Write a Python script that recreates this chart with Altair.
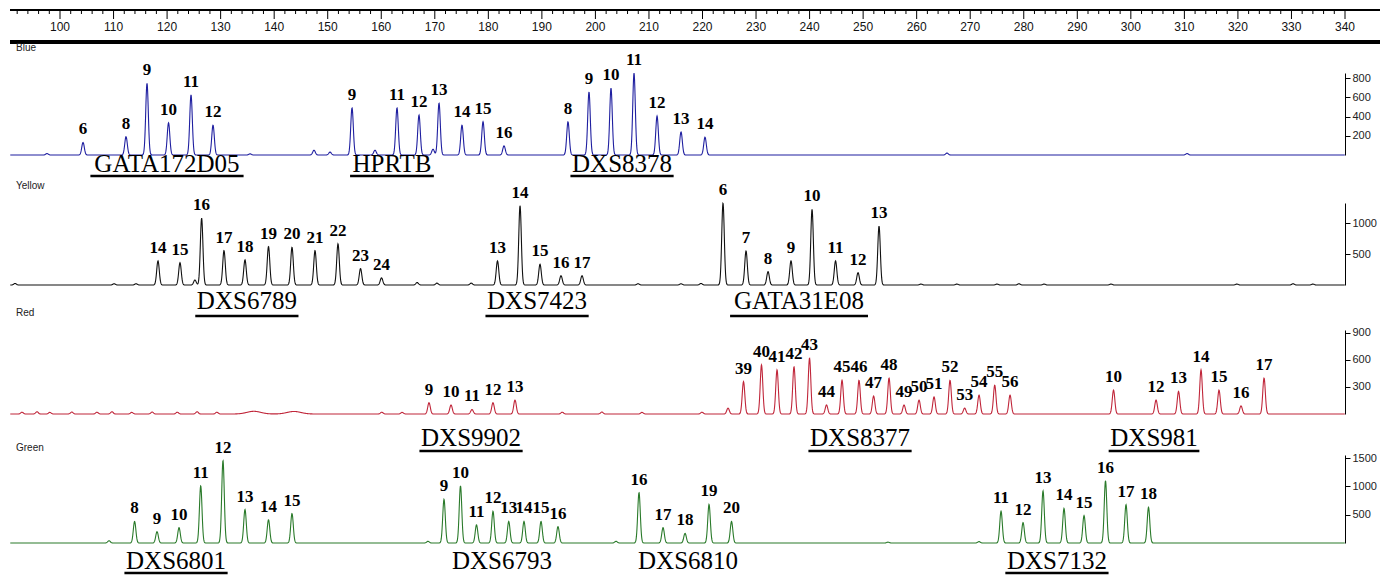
import altair as alt
import numpy as np
import pandas as pd

# ---------------- data ----------------
X_MIN, X_MAX = 90.66, 340.0
PX_PER_BP = 5.354

ruler_major = list(range(100, 341, 10))
ruler_minor = [v for v in range(92, 341, 2) if v % 10 != 0]

# Blue channel
blue_pos = [104.30, 112.33, 116.25, 120.27, 124.47, 128.58,
            154.54, 162.94, 167.05, 170.79, 175.08, 179.01, 182.93,
            194.88, 198.80, 202.91, 207.21, 211.51, 215.99, 220.47]
blue_h = [130, 190, 745, 335, 625, 310,
          490, 490, 415, 540, 310, 345, 95,
          345, 655, 695, 850, 405, 240, 185]
blue_lab = ['6', '8', '9', '10', '11', '12',
            '9', '11', '12', '13', '14', '15', '16',
            '8', '9', '10', '11', '12', '13', '14']
blue_minor_pos = [97.57, 135.49, 147.44, 150.43, 158.83, 169.67, 265.67, 310.50]
blue_minor_h = [15, 12, 50, 30, 50, 60, 20, 15]
blue_loci = ['GATA172D05', 'HPRTB', 'DXS8378']
blue_loci_x = [119.98, 162.0, 204.97]
blue_loci_ul = [1, 1, 1]

# Yellow channel
yellow_pos = [118.30, 122.41, 126.45, 130.63, 134.55, 138.94, 143.33, 147.63, 151.92, 156.13, 160.05,
              181.71, 185.92, 189.65, 193.57, 197.50,
              223.83, 228.13, 232.24, 236.53, 240.46, 244.85, 249.05, 252.97]
yellow_h = [390, 360, 1080, 555, 405, 620, 610, 555, 665, 265, 115,
            390, 1280, 335, 150, 150,
            1320, 550, 215, 390, 1220, 390, 200, 950]
yellow_lab = ['14', '15', '16', '17', '18', '19', '20', '21', '22', '23', '24',
              '13', '14', '15', '16', '17',
              '6', '7', '8', '9', '10', '11', '12', '13']
yellow_minor_pos = [91.6, 110.1, 114.2, 125.2, 166.7, 170.4, 176.8, 207.96, 215.99, 219.72,
                    260.8, 267.5, 275.0, 279.1, 283.8, 296.3, 319.8, 330.3, 334.0]
yellow_minor_h = [25, 20, 20, 80, 40, 30, 30, 20, 20, 25, 15, 15, 15, 20, 15, 15, 15, 20, 15]
yellow_loci = ['DXS6789', 'DXS7423', 'GATA31E08']
yellow_loci_x = [134.9, 189.1, 238.03]
yellow_loci_ul = [1, 1, 1]

# Red channel
red_pos = [168.92, 173.03, 176.95, 180.87, 184.98,
           227.66, 231.02, 233.92, 237.09, 239.99, 243.16, 246.06, 249.23, 251.96,
           254.84, 257.64, 260.44, 263.24, 266.23, 268.96, 271.65, 274.58, 277.44,
           296.77, 304.71, 308.91, 313.11, 316.47, 320.58, 324.88]
red_h = [125, 100, 50, 125, 155,
         360, 545, 490, 525, 620, 100, 375, 375, 200,
         400, 100, 155, 190, 375, 65, 210, 320, 210,
         265, 155, 250, 490, 265, 90, 400]
red_lab = ['9', '10', '11', '12', '13',
           '39', '40', '41', '42', '43', '44', '45', '46', '47',
           '48', '49', '50', '51', '52', '53', '54', '55', '56',
           '10', '12', '13', '14', '15', '16', '17']
red_minor_pos = [92.9, 95.7, 98.1, 102.2, 106.9, 109.7, 113.4, 117.2, 121.9, 125.6, 129.3,
                 160.1, 163.9, 193.8, 201.2, 208.7, 219.9, 224.77]
red_minor_h = [20, 25, 18, 22, 20, 25, 18, 22, 20, 25, 20, 20, 18, 20, 22, 18, 20, 65]
red_hump_pos = [136.2, 143.7]
red_hump_h = [30, 28]
red_loci = ['DXS9902', 'DXS8377', 'DXS981']
red_loci_x = [176.77, 249.42, 304.33]
red_loci_ul = [1, 1, 1]

# Green channel
green_pos = [113.93, 118.12, 122.23, 126.28, 130.44, 134.55, 138.94, 143.33,
             171.72, 174.80, 177.79, 180.87, 183.81, 186.66, 189.84, 193.01,
             208.14, 212.63, 216.74, 221.22, 225.42,
             275.76, 279.87, 283.60, 287.52, 291.26, 295.27, 299.10, 303.30]
green_h = [380, 200, 270, 1010, 1455, 590, 410, 520,
           770, 1010, 320, 560, 380, 380, 380, 290,
           890, 270, 170, 680, 380,
           560, 360, 920, 610, 485, 1100, 675, 630]
green_lab = ['8', '9', '10', '11', '12', '13', '14', '15',
             '9', '10', '11', '12', '13', '14', '15', '16',
             '16', '17', '18', '19', '20',
             '11', '12', '13', '14', '15', '16', '17', '18']
green_minor_pos = [109.15, 168.73, 203.85, 254.65, 271.64]
green_minor_h = [40, 30, 30, 15, 25]
green_loci = ['DXS6801', 'DXS6793', 'DXS6810', 'DXS7132']
green_loci_x = [121.67, 182.55, 217.3, 286.2]
green_loci_ul = [1, 0, 0, 1]

# ---------------- build tables ----------------
GRID = np.arange(X_MIN + 0.05, X_MAX + 0.0001, 0.05)
SIGMA = 0.24


def trace(pos, h, mpos, mh, hpos=(), hh=()):
    s = np.zeros_like(GRID)
    for p, v in zip(list(pos) + list(mpos), list(h) + list(mh)):
        s += v * np.exp(-0.5 * ((GRID - p) / SIGMA) ** 2)
    for p, v in zip(hpos, hh):
        s += v * np.exp(-0.5 * ((GRID - p) / 1.3) ** 2)
    return pd.DataFrame({'bp': GRID, 's': s})


EM = {'A': .722, 'B': .667, 'D': .722, 'E': .611, 'G': .722, 'H': .722,
      'P': .556, 'R': .667, 'S': .556, 'T': .611, 'X': .722}
NAME_SIZE = 25


def loci_tables(names, xs, ul):
    df = pd.DataFrame({'name': names, 'bp': xs})
    rows = []
    for n, x, u in zip(names, xs, ul):
        if u:
            w = sum(EM.get(c, 0.5) for c in n) * NAME_SIZE / PX_PER_BP
            rows.append({'x0': x - w / 2 - 0.3, 'x1': x + w / 2 + 0.3})
    return df, pd.DataFrame(rows)


xsc = alt.Scale(domain=[X_MIN, X_MAX], nice=False, zero=False)
W = 1335

AX = dict(orient='right', title=None, grid=False, domainColor='black', tickColor='black',
          labelColor='#222', labelFont='Liberation Sans', labelFontSize=11, tickSize=5,
          labelPadding=2, domainWidth=1, format='d')


def panel(chan, color, pos, h, lab, mpos, mh, loci, loci_x, loci_ul,
          ydom, yrange, yticks, band_h, chan_y, name_y, ul_y, hpos=(), hh=()):
    ysc = alt.Scale(domain=ydom, range=yrange, nice=False, zero=False)
    axis = alt.Axis(values=yticks, **AX)
    sig = trace(pos, h, mpos, mh, hpos, hh)
    line = alt.Chart(sig).mark_line(color=color, strokeWidth=1.1).encode(
        x=alt.X('bp:Q', scale=xsc, axis=None),
        y=alt.Y('s:Q', scale=ysc, axis=axis))
    labdf = pd.DataFrame({'bp': pos, 's': h, 'lab': lab})
    labels = alt.Chart(labdf).mark_text(font='Liberation Serif', fontWeight='bold', fontSize=17,
                                        baseline='bottom', dy=-4, color='black').encode(
        x=alt.X('bp:Q', scale=xsc, axis=None),
        y=alt.Y('s:Q', scale=ysc, axis=axis),
        text='lab:N')
    ndf, udf = loci_tables(loci, loci_x, loci_ul)
    names = alt.Chart(ndf).mark_text(font='Liberation Serif', fontSize=NAME_SIZE,
                                     baseline='middle', color='black').encode(
        x=alt.X('bp:Q', scale=xsc, axis=None), y=alt.value(name_y), text='name:N')
    ul = alt.Chart(udf).mark_rule(color='black', strokeWidth=2.5).encode(
        x=alt.X('x0:Q', scale=xsc, axis=None), x2=alt.X2('x1:Q'), y=alt.value(ul_y))
    cl = alt.Chart(pd.DataFrame({'c': [chan]})).mark_text(
        align='left', baseline='middle', font='Liberation Sans', fontSize=10, color='#222').encode(
        x=alt.value(6), y=alt.value(chan_y), text='c:N')
    return alt.layer(line, labels, names, ul, cl).properties(width=W, height=band_h)


# ruler
rmaj = pd.DataFrame({'t': ruler_major})
rmin = pd.DataFrame({'t': ruler_minor})
top_line = alt.Chart(rmaj).mark_rule(color='black', strokeWidth=1.5).encode(
    x=alt.value(0), x2=alt.value(1370), y=alt.value(2))
bot_line = alt.Chart(rmaj).mark_rule(color='black', strokeWidth=3).encode(
    x=alt.value(0), x2=alt.value(1370), y=alt.value(34))
minor_t = alt.Chart(rmin).mark_rule(color='black', strokeWidth=1).encode(
    x=alt.X('t:Q', scale=xsc, axis=None), y=alt.value(2), y2=alt.value(6))
major_t = alt.Chart(rmaj).mark_rule(color='black', strokeWidth=1).encode(
    x=alt.X('t:Q', scale=xsc, axis=None), y=alt.value(2), y2=alt.value(11))
rlab = alt.Chart(rmaj).mark_text(font='Liberation Sans', fontSize=12, baseline='middle',
                                 color='#111').encode(
    x=alt.X('t:Q', scale=xsc, axis=None), y=alt.value(19), text='t:Q')
ruler = alt.layer(top_line, bot_line, minor_t, major_t, rlab).properties(width=W, height=36)

blue = panel('Blue', '#1f1fa0', blue_pos, blue_h, blue_lab, blue_minor_pos, blue_minor_h,
             blue_loci, blue_loci_x, blue_loci_ul,
             [0, 852], [111, 29], [200, 400, 600, 800], 140, 4, 120, 132)
yellow = panel('Yellow', '#111111', yellow_pos, yellow_h, yellow_lab, yellow_minor_pos, yellow_minor_h,
               yellow_loci, yellow_loci_x, yellow_loci_ul,
               [0, 1323], [101, 19], [500, 1000], 136, 2, 117, 132)
red = panel('Red', '#c0263a', red_pos, red_h, red_lab, red_minor_pos, red_minor_h,
            red_loci, red_loci_x, red_loci_ul,
            [0, 933], [94, 10], [300, 600, 900], 127, -7, 118, 131,
            red_hump_pos, red_hump_h)
green = panel('Green', '#2a7a2a', green_pos, green_h, green_lab, green_minor_pos, green_minor_h,
              green_loci, green_loci_x, green_loci_ul,
              [0, 1553], [96, 8], [500, 1000, 1500], 121, 1, 114, 126)

chart = alt.vconcat(ruler, blue, yellow, red, green, spacing=0, bounds='flush').properties(
    padding=0).configure_view(strokeWidth=0)

chart.save("out.html", embed_options={"renderer": "svg", "actions": False})
